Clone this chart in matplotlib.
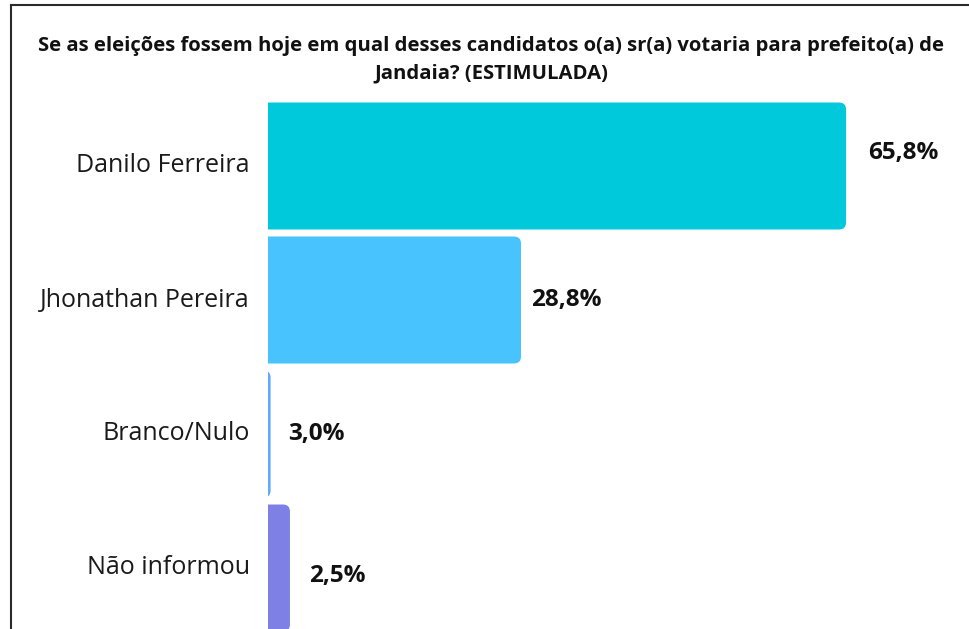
import matplotlib
matplotlib.use("Agg")
import matplotlib.pyplot as plt
from matplotlib.patches import FancyBboxPatch
from matplotlib.lines import Line2D

# ---- data ----
categories = ["Danilo Ferreira", "Jhonathan Pereira", "Branco/Nulo", "Não informou"]
bar_values = [65.8, 28.8, 0.3, 2.5]          # bar lengths as drawn in the reference
value_labels = ["65,8%", "28,8%", "3,0%", "2,5%"]
title = ("Se as eleições fossem hoje em qual desses candidatos o(a) sr(a) votaria para prefeito(a) de\n"
         "Jandaia? (ESTIMULADA)")

# ---- style ----
colors = ["#00C9DC", "#48C3FE", "#65A9FF", "#7F80E6"]
label_dx_px = [22, 10, 17, 19]
label_dy_px = [13, 0, 0, -8]

W, H, DPI = 969, 629, 100
plt.rcParams['font.family'] = ['Open Sans', 'DejaVu Sans']

fig = plt.figure(figsize=(W / DPI, H / DPI), dpi=DPI)
fig.patch.set_facecolor("white")

px_per_unit_x = 8.785
px_per_unit_y = 134.0
ax_left_px, ax_top_px = 268, 99.0
ax = fig.add_axes([ax_left_px / W, 0, (W - ax_left_px) / W, (H - ax_top_px) / H])
ax.set_xlim(0, (W - ax_left_px) / px_per_unit_x)
ax.set_ylim((H - ax_top_px) / px_per_unit_y - 0.5, -0.5)
ax.axis("off")

bar_h = 127 / 134.0
r = 0.8  # corner radius in x units (~7px)
aspect = px_per_unit_x / px_per_unit_y
for i, (v, c) in enumerate(zip(bar_values, colors)):
    x0 = -2 * r
    p = FancyBboxPatch((x0, i - bar_h / 2), v - x0, bar_h,
                       boxstyle=f"round,pad=0,rounding_size={r}",
                       mutation_aspect=aspect, facecolor=c, edgecolor="none",
                       clip_on=True)
    ax.add_patch(p)

for i, (cat, v, lab) in enumerate(zip(categories, bar_values, value_labels)):
    ax.annotate(cat, xy=(0, i), xytext=(-18 * 0.72, 0), textcoords="offset points",
                ha="right", va="center", fontsize=18, color="#1a1a1a",
                annotation_clip=False)
    ax.annotate(lab, xy=(v, i), xytext=(label_dx_px[i] * 0.72, label_dy_px[i] * 0.72),
                textcoords="offset points", ha="left", va="center",
                fontsize=17.5, fontweight="bold", color="#111111",
                annotation_clip=False)

fig.text(491.5 / W, 1 - 60 / H, title, ha="center", va="center", fontsize=14.6,
         fontweight="bold", color="#111111", linespacing=1.5)

# frame lines
fig.add_artist(Line2D([11 / W, 1], [1 - 5 / H, 1 - 5 / H], transform=fig.transFigure,
                      color="#2b2b2b", lw=1.5))
fig.add_artist(Line2D([11 / W, 11 / W], [0, 1 - 5 / H], transform=fig.transFigure,
                      color="#2b2b2b", lw=1.5))

fig.savefig("out.png", dpi=DPI, facecolor="white")
